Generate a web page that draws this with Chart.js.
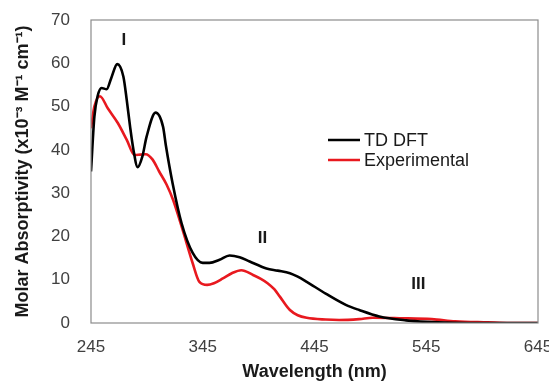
<!DOCTYPE html>
<html>
<head>
<meta charset="utf-8">
<script src="https://cdn.jsdelivr.net/npm/chart.js@4"></script>
<style>
  html, body { margin: 0; padding: 0; background: #fff; overflow: hidden; }
  #wrap { width: 549px; height: 381px; position: relative; }
</style>
</head>
<body>
<div id="wrap"><canvas id="chart"></canvas></div>
<script>
// Wavelength (nm) and molar absorptivity values
const dftWavelength = [245, 248, 251, 254.5, 259, 263, 268.5, 274, 277, 280, 283, 286.7, 291, 294.7, 302.8, 309.5, 312, 318, 326, 336, 345, 351, 360, 369, 378, 387, 402, 412, 423, 430, 438, 455, 473, 485, 503, 527, 545, 570, 600, 645];
const dftValues     = [35, 47.6, 52.5, 54.3, 54, 56.5, 59.8, 56.9, 51.5, 45.3, 40, 36, 38.5, 43, 48.6, 45.3, 41, 32.3, 23.1, 16.2, 13.9, 13.9, 14.6, 15.6, 15.2, 14.2, 12.6, 12.1, 11.5, 10.7, 9.5, 6.8, 4.2, 3.0, 1.5, 0.6, 0.25, 0.05, 0, 0];

const expWavelength = [245, 248, 253, 260, 269, 277, 284, 289, 294, 300, 306, 312.6, 318.5, 327, 336, 342, 349, 355, 363, 371, 379.5, 390, 397, 403, 409, 414, 423, 430, 438, 455, 467, 485, 497, 521, 550, 571, 600, 620, 645];
const expValues     = [45, 50, 52.4, 49.6, 46.2, 42.3, 38.8, 38.9, 39, 37.8, 35, 32, 28.4, 21.5, 13.8, 9.5, 8.8, 9.2, 10.3, 11.5, 12.2, 11.1, 10.2, 9.2, 7.8, 6.1, 3.0, 1.8, 1.2, 0.8, 0.7, 0.9, 1.2, 1.1, 0.9, 0.4, 0.15, 0, 0];

const xTicks = [245, 345, 445, 545, 645];
const yTicks = [0, 10, 20, 30, 40, 50, 60, 70];

// Band labels and where they sit (wavelength, absorptivity)
const bandLabels = ['I', 'II', 'III'];
const bandX = [274.5, 398.5, 538];
const bandY = [65.4, 19.6, 9.0];

const FONT = '"Liberation Sans", Arial, sans-serif';

function toPoints(xs, ys) {
    return xs.map((x, i) => ({ x: x, y: ys[i] }));
}

// Frame around the plot area, taken from the axis ends
const frameBox = {
    id: 'frameBox',
    afterDatasetsDraw(chart) {
        const xs = chart.scales.x, ys = chart.scales.y;
        const l = xs.getPixelForValue(xs.min), r = xs.getPixelForValue(xs.max);
        const t = ys.getPixelForValue(ys.max), b = ys.getPixelForValue(ys.min);
        const ctx = chart.ctx;
        ctx.save();
        ctx.strokeStyle = '#8c8c8c';
        ctx.lineWidth = 1.2;
        ctx.strokeRect(l, t, r - l, b - t);
        ctx.restore();
    }
};

// Roman numeral band labels
const bandText = {
    id: 'bandText',
    afterDatasetsDraw(chart) {
        const ctx = chart.ctx;
        const xs = chart.scales.x, ys = chart.scales.y;
        ctx.save();
        ctx.font = 'bold 17px ' + FONT;
        ctx.fillStyle = '#1a1a1a';
        ctx.textAlign = 'center';
        ctx.textBaseline = 'middle';
        bandLabels.forEach((t, i) => {
            ctx.fillText(t, xs.getPixelForValue(bandX[i]), ys.getPixelForValue(bandY[i]));
        });
        ctx.restore();
    }
};

// Legend drawn inside the plot, right of centre
const innerLegend = {
    id: 'innerLegend',
    afterDatasetsDraw(chart) {
        const ctx = chart.ctx;
        const a = chart.chartArea;
        const x0 = a.left + 237;
        let y = a.top + 120;
        ctx.save();
        ctx.font = '18px ' + FONT;
        ctx.textBaseline = 'middle';
        chart.data.datasets.forEach(ds => {
            ctx.strokeStyle = ds.borderColor;
            ctx.lineWidth = 2.5;
            ctx.beginPath();
            ctx.moveTo(x0, y);
            ctx.lineTo(x0 + 32, y);
            ctx.stroke();
            ctx.fillStyle = '#1a1a1a';
            ctx.fillText(ds.label, x0 + 36, y + 1);
            y += 20;
        });
        ctx.restore();
    }
};

const ctx = document.getElementById('chart').getContext('2d');
new Chart(ctx, {
    type: 'line',
    data: {
        datasets: [
            {
                label: 'TD DFT',
                data: toPoints(dftWavelength, dftValues),
                borderColor: '#000000',
                borderWidth: 2.6,
                pointRadius: 0,
                cubicInterpolationMode: 'monotone',
                fill: false
            },
            {
                label: 'Experimental',
                data: toPoints(expWavelength, expValues),
                borderColor: '#e8191f',
                borderWidth: 2.6,
                pointRadius: 0,
                cubicInterpolationMode: 'monotone',
                fill: false
            }
        ]
    },
    options: {
        responsive: true,
        maintainAspectRatio: false,
        animation: false,
        layout: {
            padding: { top: 20, right: 11, left: 0, bottom: 0 }
        },
        plugins: {
            legend: { display: false },
            tooltip: { enabled: false }
        },
        scales: {
            x: {
                type: 'linear',
                min: 245,
                max: 645,
                afterBuildTicks: scale => { scale.ticks = xTicks.map(v => ({ value: v })); },
                afterFit: scale => {
                    scale.height = 58;
                    scale.paddingLeft = 0;
                    scale.paddingRight = 0;
                },
                grid: { display: false },
                border: { display: false },
                ticks: {
                    color: '#404040',
                    padding: 6,
                    maxRotation: 0,
                    font: { family: FONT, size: 17 }
                },
                title: {
                    display: true,
                    text: 'Wavelength (nm)',
                    color: '#1a1a1a',
                    padding: { top: 0, bottom: -2 },
                    font: { family: FONT, size: 18, weight: 'bold' }
                }
            },
            y: {
                min: 0,
                max: 70,
                afterBuildTicks: scale => { scale.ticks = yTicks.map(v => ({ value: v })); },
                afterFit: scale => {
                    scale.width = 91;
                    scale.paddingTop = 0;
                    scale.paddingBottom = 0;
                },
                grid: { display: false },
                border: { display: false },
                ticks: {
                    color: '#404040',
                    padding: 13,
                    font: { family: FONT, size: 17 }
                },
                title: {
                    display: true,
                    text: 'Molar Absorptivity (x10\u207B\u00B3 M\u207B\u00B9 cm\u207B\u00B9)',
                    color: '#1a1a1a',
                    padding: { top: 12, bottom: 0 },
                    font: { family: FONT, size: 18, weight: 'bold' }
                }
            }
        }
    },
    plugins: [frameBox, bandText, innerLegend]
});
</script>
</body>
</html>
